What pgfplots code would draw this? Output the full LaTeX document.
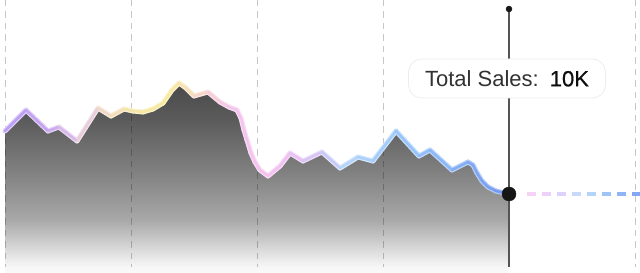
\documentclass[border=0pt]{standalone}
\usepackage{pgfplots}
\usepackage{pgfplotstable}
\pgfplotsset{compat=1.18}
\usepackage{fontspec}
\setmainfont{Liberation Sans}
\newfontfamily\medfont{Liberation Sans}[FakeBold=0.6]

\definecolor{vline}{RGB}{85,85,85}
\definecolor{dotc}{RGB}{22,22,22}
\definecolor{txtc}{RGB}{50,50,50}
\definecolor{valc}{RGB}{15,15,15}
\definecolor{boxc}{RGB}{238,236,236}
\definecolor{s0}{gray}{0.98}
\definecolor{s1}{gray}{0.96}
\definecolor{s2}{gray}{0.66}
\definecolor{s3}{gray}{0.50}
\definecolor{s4}{gray}{0.36}
\definecolor{s5}{gray}{0.29}
\pgfdeclareverticalshading{areashade}{100bp}{color(0bp)=(s0); color(25bp)=(s0); color(27bp)=(s1); color(39bp)=(s2); color(52bp)=(s3); color(65bp)=(s4); color(75bp)=(s5); color(100bp)=(s5)}

\pgfplotsset{
  colormap={core}{[1pt] rgb255(5pt)=(185,155,245) rgb255(50pt)=(200,168,240) rgb255(78pt)=(225,195,230) rgb255(100pt)=(240,215,205) rgb255(130pt)=(245,230,170) rgb255(170pt)=(248,235,160) rgb255(200pt)=(245,215,200) rgb255(230pt)=(245,198,235) rgb255(280pt)=(245,192,240) rgb255(320pt)=(212,198,245) rgb255(350pt)=(180,212,250) rgb255(400pt)=(155,200,250) rgb255(450pt)=(135,180,245) rgb255(509pt)=(115,150,238) rgb255(647pt)=(115,150,238)},
  colormap={halo}{[1pt] rgb255(5pt)=(222,208,250) rgb255(50pt)=(228,212,248) rgb255(78pt)=(240,225,242) rgb255(100pt)=(248,235,228) rgb255(130pt)=(250,242,205) rgb255(170pt)=(252,245,200) rgb255(200pt)=(250,232,225) rgb255(230pt)=(250,222,245) rgb255(280pt)=(250,220,248) rgb255(320pt)=(232,225,250) rgb255(350pt)=(215,232,252) rgb255(400pt)=(200,225,252) rgb255(450pt)=(190,212,250) rgb255(509pt)=(180,200,246) rgb255(647pt)=(180,200,246)},
  colormap={tail}{[1pt] rgb255(5pt)=(250,212,245) rgb255(527pt)=(250,212,245) rgb255(557pt)=(232,208,250) rgb255(587pt)=(190,220,250) rgb255(617pt)=(150,188,245) rgb255(647pt)=(125,160,240)},
}

\pgfplotstableread{
x y
5 142
26 163
48 142
59 146
77 132
98 165
111 157
124 164
133 162
143 161
153 164
163 170
172 183
179 190
186 185
194 177
208 181
220 171
229 166
237 163
241 155
244 143
247 133
251 120
255 111
260 103
268 97
280 107
290 120
303 112
322 121
340 105
358 116
373 112
396 142
419 117
430 123
452 103
468 111
473 108
477 100
482 92
488 86
496 82
509 79
}\salesdata

\pgfplotstableread{
x y
527 79
542 79
557 79
572 79
587 79
602 79
617 79
632 79
647 79
}\taildata

\begin{document}
\begin{tikzpicture}
\begin{axis}[
  name=ax,
  scale only axis,
  width=640pt, height=273pt,
  xmin=0, xmax=640, ymin=0, ymax=273,
  axis line style={draw=none},
  tick style={draw=none},
  xtick=\empty, ytick=\empty,
  point meta min=5, point meta max=647,
]
% area
\addplot[draw=none, shade, shading=areashade] table {\salesdata} \closedcycle;
% grid lines
\pgfplotsinvokeforeach{5,131,257,383,635}{
  \addplot[black, opacity=0.22, line width=1pt, dash pattern=on 6.5pt off 5pt] coordinates {(#1,273) (#1,6)};
}
% halo
\addplot[mesh, colormap name=halo, point meta=x,
  line width=5pt, line cap=round, line join=round] table {\salesdata};
% core line
\addplot[mesh, colormap name=core, point meta=x,
  line width=2.6pt, line cap=round, line join=round] table {\salesdata};
% dashed tail
\addplot[mesh, colormap name=tail, point meta=x,
  line width=3.2pt, line cap=butt, dash pattern=on 8.5pt off 6.5pt] table {\taildata};
% vertical indicator
\addplot[vline, line width=1.3pt] coordinates {(509,6) (509,264)};
\addplot[only marks, mark=*, mark size=3pt, mark options={fill=dotc, draw=dotc}] coordinates {(509,264)};
\addplot[only marks, mark=*, mark size=7pt, mark options={fill=dotc, draw=dotc}] coordinates {(509,79)};
% tooltip
\node[fill=white, draw=boxc, line width=0.8pt, rounded corners=13pt,
  minimum width=197pt, minimum height=39pt, inner sep=0pt, font=\fontsize{22pt}{26pt}\selectfont]
  at (axis cs:507,194.5) {\color{txtc}Total Sales:\hspace{11pt}{\medfont\color{valc}10K}};
\end{axis}
\pgfresetboundingbox
\path (ax.south west) rectangle (ax.north east);
\end{tikzpicture}
\end{document}
